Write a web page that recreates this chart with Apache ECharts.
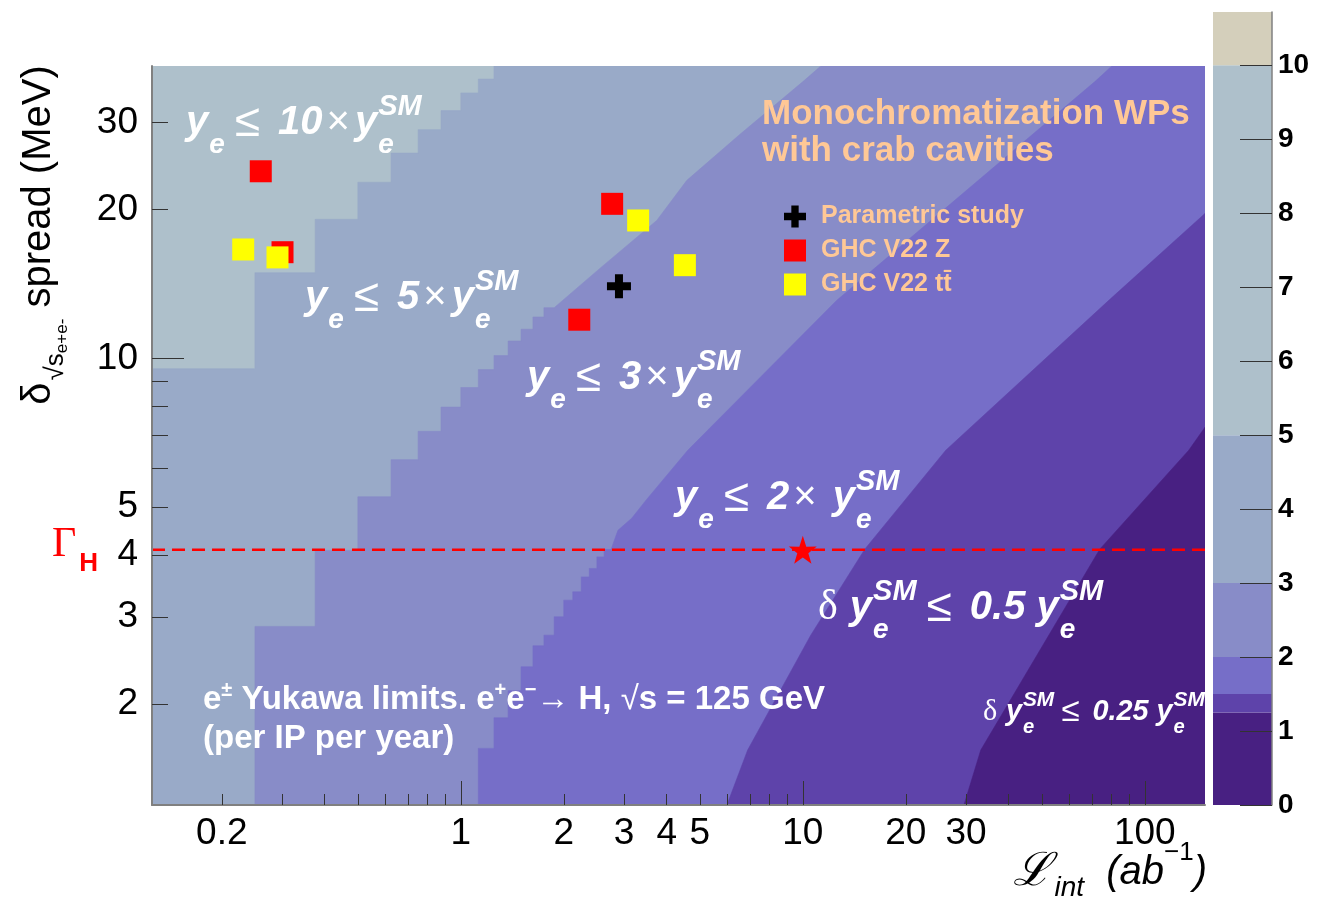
<!DOCTYPE html>
<html>
<head>
<meta charset="utf-8">
<title>e Yukawa limits</title>
<script src="https://cdn.jsdelivr.net/npm/echarts@6/dist/echarts.min.js"></script>
<style>
html, body { margin: 0; padding: 0; background: #fff; }
#main { width: 1319px; height: 901px; }
</style>
</head>
<body>
<div id="main"></div>
<script>
// axis ranges : luminosity (ab^-1) and energy spread (MeV)
var lumiRange = [0.125, 150];
var spreadRange = [1.25, 39];

// ticks and labels
var xTickMinor = [0.2, 0.3, 0.4, 0.5, 0.6, 0.7, 0.8, 0.9, 2, 3, 4, 5, 6, 7, 8, 9, 20, 30, 40, 50, 60, 70, 80, 90];
var xTickMajor = [1, 10, 100];
var xTickLabels = [0.2, 1, 2, 3, 4, 5, 10, 20, 30, 100];
var yTickMinor = [2, 3, 4, 5, 6, 7, 8, 9, 20, 30];
var yTickMajor = [10];
var yTickLabels = [2, 3, 4, 5, 10, 20, 30];

// palette levels of the colour bar
var levels = [0, 1.25, 1.5, 2, 3, 5, 10, 10.72];
var levelColors = ['#482082', '#5e43aa', '#766ec8', '#888cc8', '#99aac8', '#aec0cb', '#d4cfbb'];
var colorbarTicks = [0, 1, 2, 3, 4, 5, 6, 7, 8, 9, 10];

// contour level 5 : top of the region per luminosity bin
var edges5 = [0.125, 0.25, 0.375, 0.5, 0.625, 0.75, 0.875, 1.0, 1.125, 1.25];
var tops5 = [9.53, 14.9, 19.1, 22.7, 26.0, 29.0, 31.7, 34.4, 36.7];

// contour level 3
var edges3 = [0.25, 0.375, 0.5, 0.625, 0.75, 0.875, 1.0, 1.125, 1.25, 1.375, 1.5, 1.625, 1.75, 1.875];
var tops3 = [2.87, 4.09, 5.25, 6.24, 7.12, 7.97, 8.73, 9.49, 10.13, 10.84, 11.45, 12.12, 12.66];
var curve3 = [[2.55, 15.2], [3.74, 19.0], [4.58, 22.9], [6.54, 28.35], [10.07, 36.4], [11.29, 39]];

// contour level 2
var edges2 = [1.125, 1.25, 1.375, 1.5, 1.625, 1.75, 1.875, 2.0, 2.125, 2.25, 2.375, 2.5, 2.625, 2.75];
var tops2 = [1.627, 1.876, 2.128, 2.379, 2.623, 2.756, 3.002, 3.244, 3.372, 3.615, 3.760, 3.968, 4.107];
var curve2 = [[2.88, 4.49], [3.16, 4.75], [3.49, 5.18], [4.61, 6.52], [12.57, 13.10], [71.9, 36.4], [80.1, 39]];

// contour level 1.5
var curve15 = [[6.0, 1.25], [6.9, 1.615], [10.55, 2.756], [15.18, 4.113], [26.19, 6.52], [78.5, 13.10], [150, 19.63]];

// contour level 1.25
var curve125 = [[29.6, 1.25], [33.15, 1.615], [73.87, 4.113], [134.5, 6.52], [150, 7.255]];

// working points
var paramStudy = [[2.90, 13.98]];
var ghcZ = [[0.260, 23.89], [0.301, 16.39], [2.77, 20.53], [2.22, 11.97]];
var ghcTT = [[0.231, 16.60], [0.291, 16.00], [3.30, 19.00], [4.52, 15.43]];
var gammaH = 4.1;
var higgsPoint = [[10, 4.1]];

function stairs(edges, tops) {
	var pts = [];
	for (var i = 0; i < tops.length; i++) {
		pts.push([edges[i], tops[i]]);
		pts.push([edges[i + 1], tops[i]]);
	}
	return pts;
}

// close a boundary towards the bottom-right corner
function closePoly(b) {
	var p = b.slice();
	var last = b[b.length - 1];
	if (last[1] >= spreadRange[1]) p.push([lumiRange[1], spreadRange[1]]);
	p.push([lumiRange[1], spreadRange[0]]);
	p.push([lumiRange[0], spreadRange[0]]);
	return p;
}

var b5 = stairs(edges5, tops5).concat([[1.25, spreadRange[1]]]);
var b3 = [[0.25, spreadRange[0]]].concat(stairs(edges3, tops3), curve3);
var b2 = [[1.125, spreadRange[0]]].concat(stairs(edges2, tops2), curve2);

var regions = [
	{ poly: closePoly(b5), color: levelColors[4] },
	{ poly: closePoly(b3), color: levelColors[3] },
	{ poly: closePoly(b2), color: levelColors[2] },
	{ poly: closePoly(curve15), color: levelColors[1] },
	{ poly: closePoly(curve125), color: levelColors[0] }
];

var FONT = 'Liberation Sans';
var white = '#ffffff';
var peach = '#ffc896';

function annRich(k) {
	return {
		m: { fontFamily: FONT, fontSize: 40 * k, fontWeight: 'bold', fontStyle: 'italic', fill: white },
		o: { fontFamily: FONT, fontSize: 46 * k, fill: white, padding: [0, 18 * k, 0, 10 * k] },
		x: { fontFamily: FONT, fontSize: 40 * k, fill: white, padding: [0, 5 * k, 0, 4 * k] },
		d: { fontFamily: 'Liberation Serif', fontSize: 42 * k, fill: white, padding: [0, 12 * k, 0, 0] },
		s: { fontFamily: FONT, fontSize: 28 * k, fontWeight: 'bold', fontStyle: 'italic', fill: white, padding: [44 * k, 0, 0, 1] },
		z: { fontFamily: FONT, fontSize: 28 * k, fontWeight: 'bold', fontStyle: 'italic', fill: white, padding: [44 * k, 0, 0, 1], width: 0 },
		p: { fontFamily: FONT, fontSize: 29 * k, fontWeight: 'bold', fontStyle: 'italic', fill: white, padding: [0, 0, 32 * k, 0] }
	};
}

function label(x, y, text, rich) {
	return { type: 'text', x: x, y: y, z: 20, style: { text: text, rich: rich, align: 'left', verticalAlign: 'middle' } };
}

var starPath = 'path://M50,0 L61.8,35.1 L97.6,34.5 L68.8,56.2 L79.4,90.5 L50,70 L20.6,90.5 L31.2,56.2 L2.4,34.5 L38.2,35.1 Z';
var crossPath = 'path://M3,0H6V3H9V6H6V9H3V6H0V3H3Z';

var dom = document.getElementById('main');
var myChart = echarts.init(dom);

var axisLabelFmt = function (v) { return String(+(+v).toPrecision(3)); };

var option = {
	animation: false,
	backgroundColor: '#ffffff',
	textStyle: { fontFamily: FONT },
	grid: [
		{ left: 152, right: 114, top: 66, bottom: 96, show: true, backgroundColor: levelColors[5], borderWidth: 0 },
		{ left: 1213, right: 47, top: 12, bottom: 96 }
	],
	xAxis: [
		{
			type: 'log', logBase: 10, gridIndex: 0, min: lumiRange[0], max: lumiRange[1], z: 5,
			position: 'bottom',
			axisLine: { show: true, onZero: false, lineStyle: { color: '#808080', width: 2 } },
			axisTick: { show: true, inside: true, length: 11, customValues: xTickMinor, lineStyle: { color: '#333', width: 1 } },
			axisLabel: { show: true, customValues: xTickLabels, formatter: axisLabelFmt, fontSize: 37, color: '#000', margin: 10 },
			splitLine: { show: false }, minorTick: { show: false }
		},
		{
			type: 'log', logBase: 10, gridIndex: 0, min: lumiRange[0], max: lumiRange[1], z: 5,
			position: 'bottom',
			axisLine: { show: false, onZero: false },
			axisTick: { show: true, inside: true, length: 24, customValues: xTickMajor, lineStyle: { color: '#333', width: 1 } },
			axisLabel: { show: false },
			splitLine: { show: false }
		},
		{ type: 'value', gridIndex: 1, min: 0, max: 1, show: false }
	],
	yAxis: [
		{
			type: 'log', logBase: 10, gridIndex: 0, min: spreadRange[0], max: spreadRange[1], z: 5,
			position: 'left',
			axisLine: { show: true, onZero: false, lineStyle: { color: '#808080', width: 2 } },
			axisTick: { show: true, inside: true, length: 16, customValues: yTickMinor, lineStyle: { color: '#333', width: 1 } },
			axisLabel: { show: true, customValues: yTickLabels, formatter: axisLabelFmt, fontSize: 37, color: '#000', margin: 14 },
			splitLine: { show: false }, minorTick: { show: false }
		},
		{
			type: 'log', logBase: 10, gridIndex: 0, min: spreadRange[0], max: spreadRange[1], z: 5,
			position: 'left',
			axisLine: { show: false, onZero: false },
			axisTick: { show: true, inside: true, length: 32, customValues: yTickMajor, lineStyle: { color: '#333', width: 1 } },
			axisLabel: { show: false },
			splitLine: { show: false }
		},
		{
			type: 'value', gridIndex: 1, min: levels[0], max: levels[levels.length - 1], position: 'right', z: 5,
			axisLine: { show: true, onZero: false, lineStyle: { color: '#808080', width: 1.5 } },
			axisTick: { show: true, inside: true, length: 32, customValues: colorbarTicks, lineStyle: { color: '#333', width: 1 } },
			axisLabel: { show: true, customValues: colorbarTicks, fontSize: 28, fontWeight: 'bold', color: '#000', margin: 6 },
			splitLine: { show: false }
		}
	],
	legend: {
		data: ['Parametric study', 'GHC V22 Z', 'GHC V22 t\u0074\u0304'],
		orient: 'vertical', left: 779, top: 199,
		itemWidth: 22, itemHeight: 22, itemGap: 9,
		textStyle: { color: peach, fontSize: 25, fontWeight: 'bold', fontFamily: FONT, padding: [0, 0, 0, 10] }
	},
	series: [
		{
			type: 'custom', name: 'regions', xAxisIndex: 0, yAxisIndex: 0, z: 1, clip: true, silent: true,
			encode: { x: 0, y: 1 },
			data: regions.map(function (r, i) { return [lumiRange[0], spreadRange[0], i]; }),
			renderItem: function (params, api) {
				var r = regions[params.dataIndex];
				var pts = r.poly.map(function (p) { return api.coord(p); });
				return { type: 'polygon', shape: { points: pts }, style: { fill: r.color, stroke: r.color, lineWidth: 0.6 } };
			}
		},
		{
			type: 'custom', name: 'palette', xAxisIndex: 2, yAxisIndex: 2, z: 1, silent: true,
			encode: { x: 0, y: 1 },
			data: levelColors.map(function (c, i) { return [0, levels[i], levels[i + 1]]; }),
			renderItem: function (params, api) {
				var lo = api.coord([0, api.value(1)]);
				var hi = api.coord([1, api.value(2)]);
				return { type: 'rect', shape: { x: lo[0], y: hi[1], width: hi[0] - lo[0], height: lo[1] - hi[1] }, style: { fill: levelColors[params.dataIndex] } };
			}
		},
		{
			type: 'line', name: 'GammaH', xAxisIndex: 0, yAxisIndex: 0, z: 4, silent: true,
			data: [[lumiRange[0], gammaH], [lumiRange[1], gammaH]],
			symbol: 'none',
			lineStyle: { color: '#ff0000', width: 2.5, type: [13, 7] }
		},
		{
			type: 'scatter', name: 'Higgs', xAxisIndex: 0, yAxisIndex: 0, z: 6,
			data: higgsPoint, symbol: starPath, symbolSize: 28,
			itemStyle: { color: '#ff0000', opacity: 1 }
		},
		{
			type: 'scatter', name: 'GHC V22 Z', xAxisIndex: 0, yAxisIndex: 0, z: 6,
			data: ghcZ, symbol: 'rect', symbolSize: 22,
			itemStyle: { color: '#ff0000', opacity: 1 }
		},
		{
			type: 'scatter', name: 'GHC V22 t\u0074\u0304', xAxisIndex: 0, yAxisIndex: 0, z: 6,
			data: ghcTT, symbol: 'rect', symbolSize: 22,
			itemStyle: { color: '#ffff00', opacity: 1 }
		},
		{
			type: 'scatter', name: 'Parametric study', xAxisIndex: 0, yAxisIndex: 0, z: 6,
			data: paramStudy, symbol: crossPath, symbolSize: 24,
			itemStyle: { color: '#000000', opacity: 1 }
		}
	],
	graphic: [
		// y axis title
		{
			type: 'text', x: 39, y: 235, rotation: Math.PI / 2, z: 20,
			style: {
				text: '{d|\u03b4}{r|\u221a}{s|s}{e|e+e-}{t| spread (MeV)}',
				align: 'center', verticalAlign: 'middle',
				rich: {
					d: { fontFamily: FONT, fontSize: 40, fill: '#000' },
					r: { fontFamily: FONT, fontSize: 26, fill: '#000', padding: [34, 0, 0, 2] },
					s: { fontFamily: FONT, fontSize: 26, fill: '#000', padding: [34, 0, 0, 0] },
					e: { fontFamily: FONT, fontSize: 17, fill: '#000', padding: [46, 0, 0, 0] },
					t: { fontFamily: FONT, fontSize: 40, fill: '#000' }
				}
			}
		},
		// x axis title
		{
			type: 'text', x: 1207, y: 873, z: 20,
			style: {
				text: '{l|\u2112}{i|int}{t|  (ab}{p|\u22121}{t|)}',
				align: 'right', verticalAlign: 'middle',
				rich: {
					l: { fontFamily: 'DejaVu Serif', fontSize: 46, fontStyle: 'italic', fill: '#000' },
					i: { fontFamily: FONT, fontSize: 28, fontStyle: 'italic', fill: '#000', padding: [30, 0, 0, 3] },
					t: { fontFamily: FONT, fontSize: 40, fontStyle: 'italic', fill: '#000' },
					p: { fontFamily: FONT, fontSize: 26, fill: '#000', padding: [0, 0, 40, 0] }
				}
			}
		},
		// Gamma_H
		{
			type: 'text', x: 52, y: 545, z: 20,
			style: {
				text: '{g|\u0393}{h|H}', align: 'left', verticalAlign: 'middle',
				rich: {
					g: { fontFamily: 'Liberation Serif', fontSize: 42, fill: '#ff0000' },
					h: { fontFamily: FONT, fontSize: 26, fontWeight: 'bold', fill: '#ff0000', padding: [37, 0, 0, 3] }
				}
			}
		},
		label(186, 123, '{m|y}{s|e}{o|\u2264}{m|10}{x|\u00d7}{m|y}{z|e}{p|SM}', annRich(1)),
		label(305, 298, '{m|y}{s|e}{o|\u2264}{m|5}{x|\u00d7}{m|y}{z|e}{p|SM}', annRich(1)),
		label(527, 378, '{m|y}{s|e}{o|\u2264}{m|3}{x|\u00d7}{m|y}{z|e}{p|SM}', annRich(1)),
		label(675, 498, '{m|y}{s|e}{o|\u2264}{m|2}{x|\u00d7 }{m|y}{z|e}{p|SM}', annRich(1)),
		label(818, 608, '{d|\u03b4}{m|y}{z|e}{p|SM}{o|\u2264}{m|0.5 y}{z|e}{p|SM}', annRich(1)),
		label(983, 712, '{d|\u03b4}{m|y}{z|e}{p|SM}{o|\u2264}{m|0.25 y}{z|e}{p|SM}', annRich(0.72)),
		label(203, 700, '{t|e}{u|\u00b1}{t| Yukawa limits. e}{u|+}{t|e}{u|\u2212}{a|\u2192}{t| H, }{a|\u221a}{t|s = 125 GeV}', {
			t: { fontFamily: FONT, fontSize: 33, fontWeight: 'bold', fill: white },
			u: { fontFamily: FONT, fontSize: 20, fontWeight: 'bold', fill: white, padding: [0, 0, 20, 0] },
			a: { fontFamily: FONT, fontSize: 33, fill: white }
		}),
		label(203, 739, '{t|(per IP per year)}', {
			t: { fontFamily: FONT, fontSize: 33, fontWeight: 'bold', fill: white }
		}),
		label(762, 114, '{t|Monochromatization WPs}', {
			t: { fontFamily: FONT, fontSize: 35, fontWeight: 'bold', fill: peach }
		}),
		label(762, 151, '{t|with crab cavities}', {
			t: { fontFamily: FONT, fontSize: 35, fontWeight: 'bold', fill: peach }
		})
	]
};

if (option && typeof option === "object") {
	myChart.setOption(option, true);
}
</script>
</body>
</html>
